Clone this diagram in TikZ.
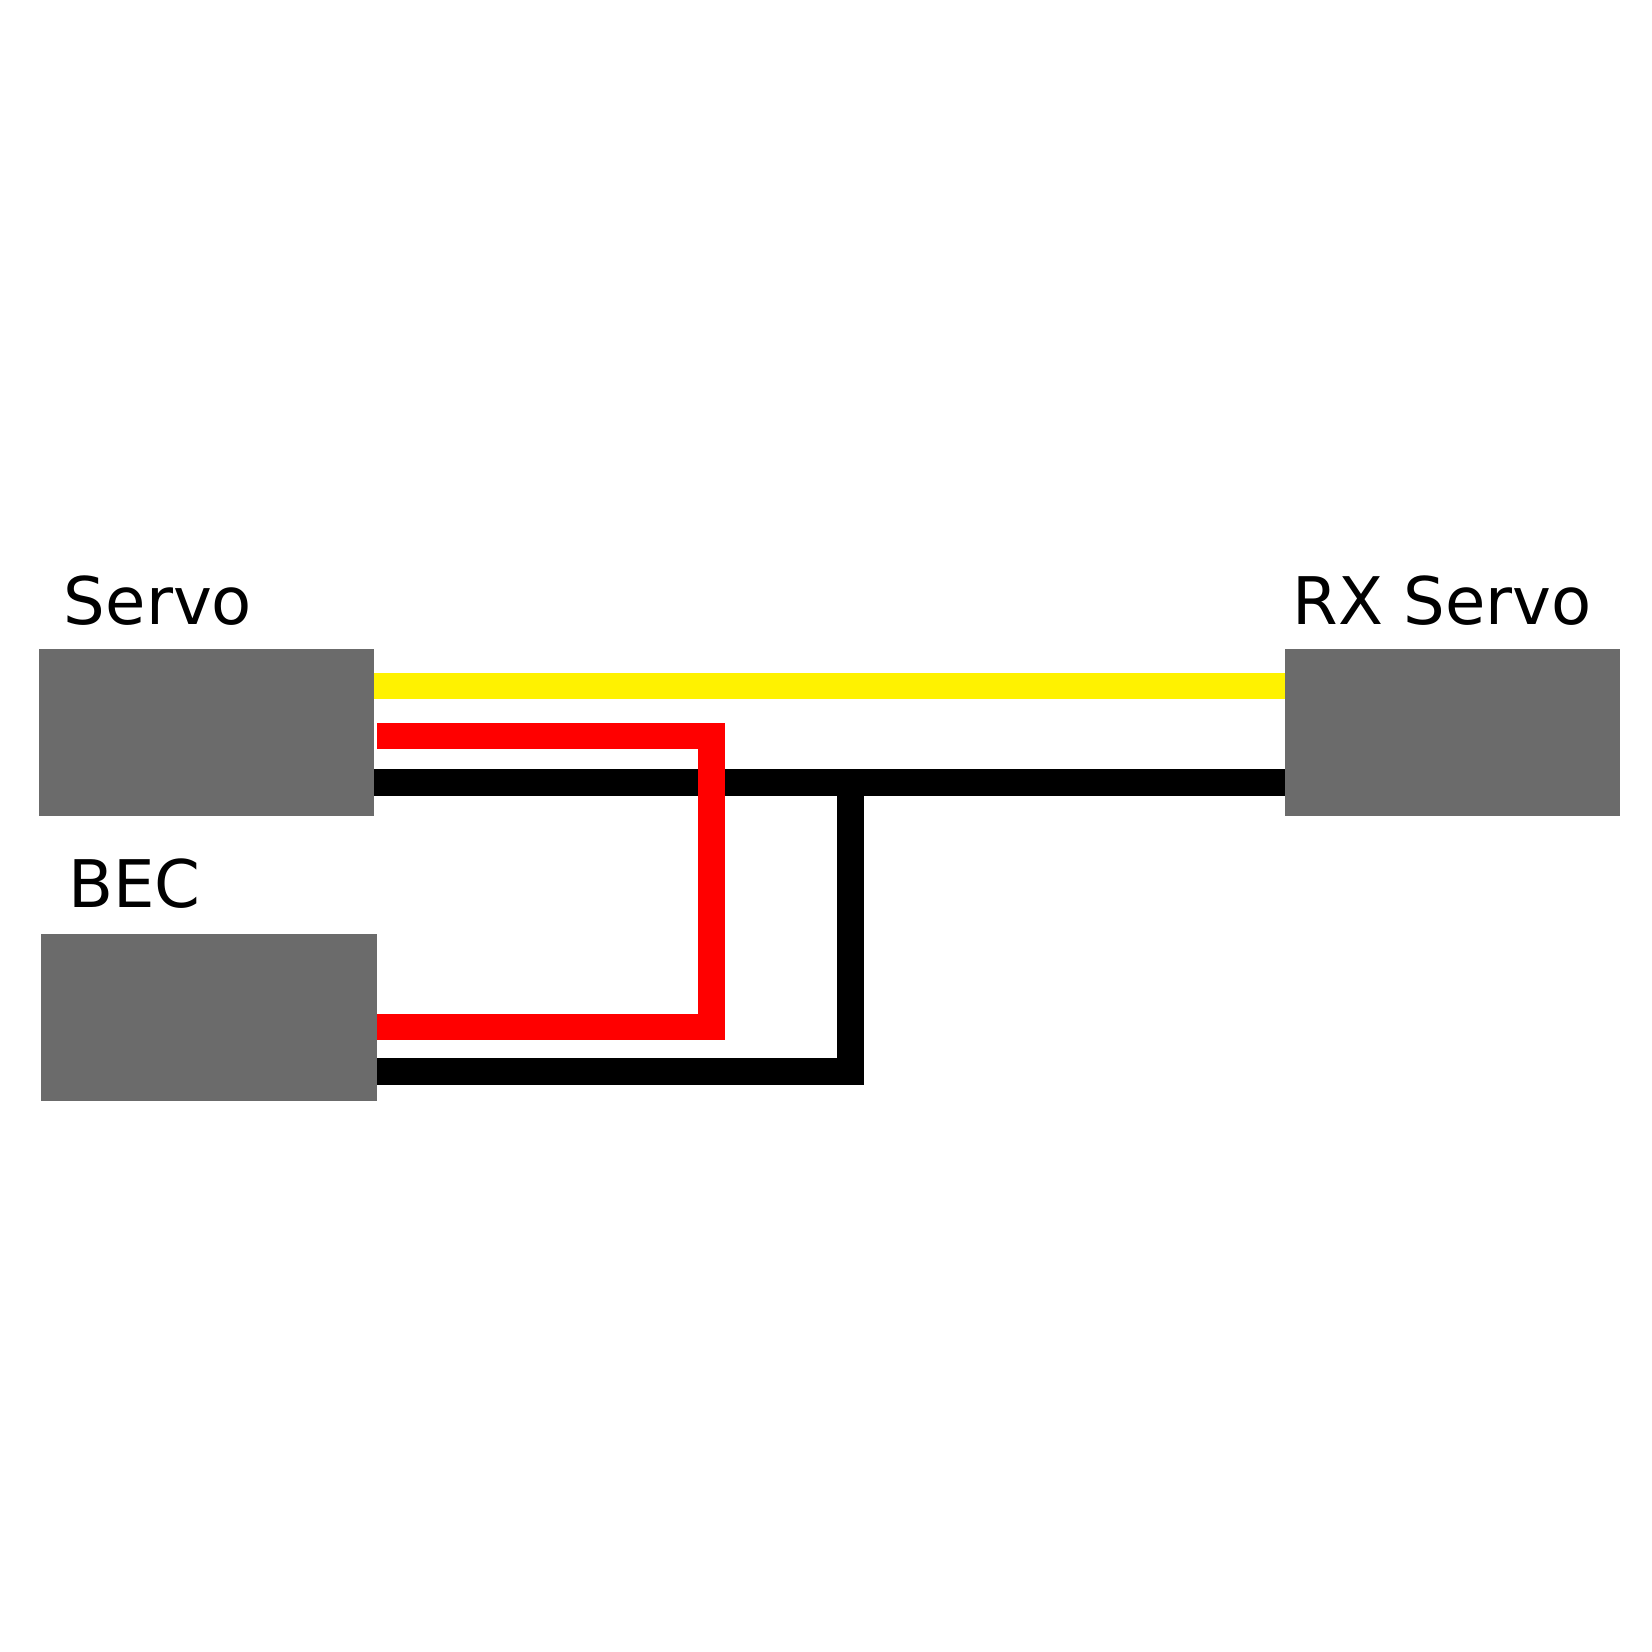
\documentclass[tikz,border=0pt]{standalone}
\usepackage{fontspec}
\setmainfont{DejaVu Sans}
\begin{document}
\begin{tikzpicture}[x=0.5pt,y=-0.5pt,
  box/.style={fill=black!58,draw=none},
  lbl/.style={anchor=base west,inner sep=0,font=\fontsize{31}{36}\selectfont},
  wire/.style={line width=12.5pt,line cap=butt,line join=miter}]
\useasboundingbox (0,0) rectangle (1560,1560);
\fill[white] (0,0) rectangle (1560,1560);
\path[box] (37,613) rectangle (353,771);
\path[box] (1213,613) rectangle (1530,771);
\path[box] (39,882) rectangle (356,1040);
\coordinate (s) at (353,0);
\node[lbl] (ls) at (60,590) {Servo};
\node[lbl] (lr) at (1220,590) {RX Servo};
\node[lbl] (lb) at (64,857) {BEC};
\coordinate (y1) at (353,648); \coordinate (y2) at (1213,648);
\coordinate (k1) at (353,739); \coordinate (k2) at (1213,739);
\coordinate (kv) at (803,739); \coordinate (kb) at (803,1012); \coordinate (kb2) at (356,1012);
\coordinate (r1) at (356,695); \coordinate (r2) at (672,695); \coordinate (r3) at (672,970); \coordinate (r4) at (356,970);
\draw[wire,yellow] (y1) -- (y2);
\draw[wire,black] (k1) -- (k2);
\draw[wire,black] (kv) -- (kb) -- (kb2);
\draw[wire,red] (r1) -- (r2) -- (r3) -- (r4);
\end{tikzpicture}
\end{document}
